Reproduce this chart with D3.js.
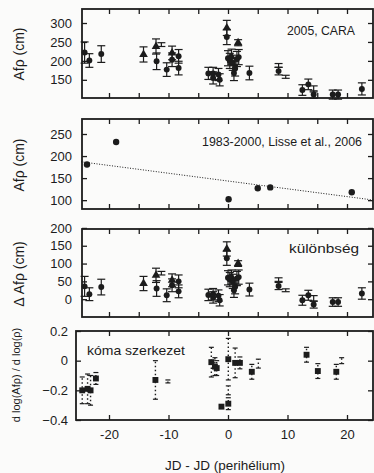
<!DOCTYPE html>
<html>
<head>
<meta charset="utf-8">
<script src="https://cdn.jsdelivr.net/npm/d3@7"></script>
<style>
  html, body { margin: 0; padding: 0; background: #fbfbfa; }
  svg { display: block; font-family: "Liberation Sans", Arial, sans-serif; }
  .axis path { display: none; }
  .axis line { stroke: #1c1c1c; stroke-width: 1.3; }
  .axis text { fill: #1c1c1c; font-size: 13px; font-family: "Liberation Sans", Arial, sans-serif; }
</style>
</head>
<body>
<div id="chart"></div>
<script>
// CARA 2005 measurements (days from perihelion), shared by panels 1 and 3
const caraDays  = [-24.1, -23.3, -21.3, -14.2, -12.1, -12.0, -11.2, -10.3, -9.4, -9.4, -8.3, -8.3,
                   -3.3, -2.5, -2.5, -1.6, -1.4, -0.2, -0.2, 0.0, 0.3, 0.6, 0.8, 1.0, 1.2, 1.5, 1.8, 1.7,
                   3.6, 8.5, 8.5, 9.7, 12.5, 13.5, 14.4, 14.4, 17.6, 18.5, 22.5];
const caraAfrho = [222, 201, 218, 217, 238, 199, 243, 177, 221, 203, 212, 181,
                   167, 167, 155, 164, 150, 287, 263, 207, 200, 211, 195, 168, 180, 205, 210, 248,
                   168, 188, 173, 158, 123, 138, 126, 111, 111, 111, 126];
const caraErr   = [28, 18, 22, 20, 20, 22, 5, 18, 18, 18, 18, 18,
                   16, 16, 16, 16, 16, 20, 20, 20, 20, 20, 20, 20, 20, 20, 20, 8,
                   18, 5, 10, 4, 14, 14, 8, 10, 12, 12, 16];
const caraMark  = ["c", "c", "c", "t", "t", "c", "x", "c", "t", "c", "c", "c",
                   "c", "c", "c", "c", "c", "t", "c", "c", "c", "t", "c", "c", "c", "c", "c", "t",
                   "c", "x", "c", "x", "c", "c", "x", "c", "c", "c", "c"];
// difference panel
const diffAfrho = [36, 14, 34, 44, 67, 30, 73, 11, 53, 39, 50, 22,
                   12, 14, 5, 10, -3, 141, 115, 60, 55, 62, 50, 25, 35, 58, 62, 100,
                   27, 55, 37, 25, -3, 11, 2, -15, -8, -8, 16];

// Lisse et al. 2006 (1983-2000)
const lisseDays  = [-23.7, -18.8, 0.1, 5.0, 7.1, 20.8];
const lisseAfrho = [181, 232, 102, 127, 129, 118];
const trendDays  = [-24.7, 24.6];
const trendAfrho = [187, 100];

// coma structure
const comaDays  = [-24.5, -23.6, -23.1, -22.2, -12.2, -10.1, -2.8, -2.2, -1.9, -1.1,
                   0.05, 0.05, 0.05, 1.2, 2.0, 4.0, 5.1, 13.2, 15.1, 18.2, 19.1];
const comaSlope = [-0.20, -0.19, -0.20, -0.12, -0.13, -0.14, -0.01, -0.04, -0.05, -0.31,
                   0.01, -0.20, -0.29, -0.015, -0.015, -0.075, -0.02, 0.04, -0.07, -0.075, 0.0];
const comaErr   = [0.09, 0.1, 0.1, 0.04, 0.13, 0.01, 0.1, 0.06, 0.05, 0.01,
                   0.14, 0.03, 0.04, 0.1, 0.04, 0.05, 0.03, 0.05, 0.05, 0.05, 0.02];
const comaMark  = ["s", "s", "s", "s", "s", "x", "s", "s", "s", "s",
                   "s", "x", "s", "s", "s", "s", "x", "s", "s", "s", "x"];

const xTicks = [-20, -15, -10, -5, 0, 5, 10, 15, 20];
const xLabels = [-20, -10, 0, 10, 20];

const W = 374, H = 473;
const ink = "#1c1c1c";

const svg = d3.select("#chart").append("svg")
    .attr("width", W)
    .attr("height", H);

const x = d3.scaleLinear().domain([-20, 20]).range([109, 347]);

const panels = [
    {left: 82, top: 9, bottom: 98, domain: [102, 337], ticks: [150, 200, 250, 300], label: "Afρ (cm)", labelY: 54, xt: xTicks},
    {left: 82, top: 119, bottom: 209, domain: [80, 284], ticks: [100, 150, 200, 250], label: "Afρ (cm)", labelY: 165, xt: xTicks},
    {left: 82, top: 229, bottom: 317, domain: [-50, 197], ticks: [0, 50, 100, 150, 200], label: "Δ Afρ (cm)", labelY: 274, xt: xTicks},
    {left: 76, top: 331, bottom: 420, domain: [-0.4, 0.2], ticks: [-0.4, -0.2, 0, 0.2], label: "d log(Afρ) / d log(ρ)", labelY: 375, xt: xLabels}
];
const right = 373;

panels.forEach((p, i) => {
    p.y = d3.scaleLinear().domain(p.domain).range([p.bottom, p.top]);
    const g = svg.append("g");

    // inner ticks, all four sides
    g.append("g").attr("class", "axis")
        .attr("transform", "translate(0," + p.top + ")")
        .call(d3.axisTop(x).tickValues(p.xt).tickSize(-5).tickFormat(""));
    const bottomAxis = d3.axisBottom(x).tickValues(p.xt).tickSize(-5).tickPadding(10);
    if (i < 3) bottomAxis.tickFormat("");
    else bottomAxis.tickValues(xLabels).tickFormat(d => d);
    g.append("g").attr("class", "axis")
        .attr("transform", "translate(0," + p.bottom + ")")
        .call(bottomAxis);

    const fmt = i === 3 ? (d => d === 0 ? "0" : d3.format(".1f")(d)) : d3.format("d");
    g.append("g").attr("class", "axis")
        .attr("transform", "translate(" + p.left + ",0)")
        .call(d3.axisLeft(p.y).tickValues(p.ticks).tickSize(-5).tickPadding(i === 3 ? 8 : 10).tickFormat(fmt));
    g.append("g").attr("class", "axis")
        .attr("transform", "translate(" + right + ",0)")
        .call(d3.axisRight(p.y).tickValues(p.ticks).tickSize(-5).tickFormat(""));

    g.append("rect")
        .attr("x", p.left).attr("y", p.top)
        .attr("width", right - p.left).attr("height", p.bottom - p.top)
        .attr("fill", "none").attr("stroke", ink).attr("stroke-width", 1.8);

    svg.append("text")
        .attr("transform", "translate(" + (i === 3 ? 16 : 19) + "," + p.labelY + ") rotate(-90)")
        .attr("text-anchor", "middle")
        .attr("dy", "0.35em")
        .attr("fill", ink)
        .attr("font-size", i === 3 ? 11 : 14)
        .text(p.label);
});

function drawMarker(sel, kind, size) {
    if (kind === "c") {
        sel.append("circle").attr("r", size * 0.9).attr("fill", ink);
    } else if (kind === "t") {
        sel.append("path").attr("d", d3.symbol(d3.symbolTriangle, size * size * 3)()).attr("fill", ink);
    } else if (kind === "s") {
        sel.append("path").attr("d", d3.symbol(d3.symbolSquare, size * size * 3.4)()).attr("fill", ink);
    } else {
        sel.append("path").attr("d", d3.symbol(d3.symbolX, size * size * 2.4)()).attr("fill", ink);
    }
}

function errorPoints(panel, days, vals, errs, marks, dotted) {
    const y = panel.y;
    const pts = days.map((d, k) => ({d: d, v: vals[k], e: errs[k], m: marks[k]}));
    const g = svg.append("g");
    const eb = g.selectAll("g.eb").data(pts).enter().append("g").attr("class", "eb");
    eb.append("line")
        .attr("x1", d => x(d.d)).attr("x2", d => x(d.d))
        .attr("y1", d => y(d.v - d.e)).attr("y2", d => y(d.v + d.e))
        .attr("stroke", ink).attr("stroke-width", dotted ? 1.4 : 1.2)
        .attr("stroke-dasharray", dotted ? "1.5,2.5" : null);
    [-1, 1].forEach(s => {
        eb.append("line")
            .attr("x1", d => x(d.d) - (dotted ? 2.5 : 4)).attr("x2", d => x(d.d) + (dotted ? 2.5 : 4))
            .attr("y1", d => y(d.v + s * d.e)).attr("y2", d => y(d.v + s * d.e))
            .attr("stroke", ink).attr("stroke-width", 1.2);
    });
    eb.append("g")
        .attr("transform", d => "translate(" + x(d.d) + "," + y(d.v) + ")")
        .each(function (d) { drawMarker(d3.select(this), d.m, dotted ? 3.2 : 3.3); });
}

// panel 1
errorPoints(panels[0], caraDays, caraAfrho, caraErr, caraMark, false);
// panel 3
errorPoints(panels[2], caraDays, diffAfrho, caraErr, caraMark, false);
// panel 4
errorPoints(panels[3], comaDays, comaSlope, comaErr, comaMark, true);

// panel 2: Lisse points and trend
const p2 = panels[1];
svg.append("path")
    .datum(trendDays.map((d, k) => [d, trendAfrho[k]]))
    .attr("d", d3.line().x(d => x(d[0])).y(d => p2.y(d[1])))
    .attr("fill", "none").attr("stroke", ink).attr("stroke-width", 1)
    .attr("stroke-dasharray", "1,1.6");
svg.append("g").selectAll("circle")
    .data(lisseDays.map((d, k) => [d, lisseAfrho[k]]))
    .enter().append("circle")
    .attr("cx", d => x(d[0])).attr("cy", d => p2.y(d[1]))
    .attr("r", 3.2).attr("fill", ink);

// annotations
const notes = [
    {t: "2005, CARA", x: 287, y: 35, w: 68},
    {t: "1983-2000, Lisse et al., 2006", x: 202, y: 146, w: 160},
    {t: "különbség", x: 289, y: 253, w: 70},
    {t: "kóma szerkezet", x: 87, y: 355, w: 98}
];
notes.forEach(n => {
    svg.append("text")
        .attr("x", n.x).attr("y", n.y)
        .attr("font-size", 13)
        .attr("fill", ink)
        .attr("textLength", n.w)
        .attr("lengthAdjust", "spacingAndGlyphs")
        .text(n.t);
});

svg.append("text")
    .attr("x", 225).attr("y", 470)
    .attr("text-anchor", "middle")
    .attr("font-size", 13.5)
    .attr("fill", ink)
    .text("JD - JD (perihélium)");
</script>
</body>
</html>
